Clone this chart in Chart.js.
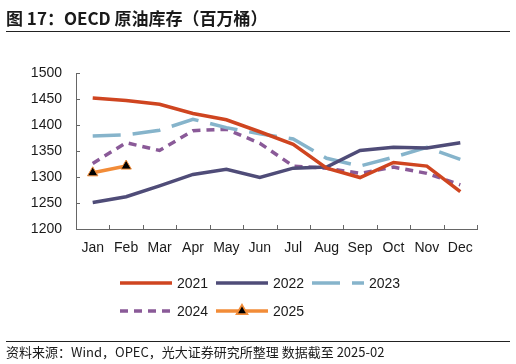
<!DOCTYPE html>
<html>
<head>
<meta charset="utf-8">
<script src="https://cdn.jsdelivr.net/npm/chart.js@4/dist/chart.umd.min.js"></script>
<style>
body{margin:0;width:516px;height:364px;background:#fff;position:relative;overflow:hidden}
#title{position:absolute;left:6px;top:5px;font:bold 17px "Noto Sans CJK SC";color:#1a1a1a;white-space:nowrap}
#topline{position:absolute;left:6px;right:6px;top:31px;border-top:1px solid #222}
#foot{position:absolute;left:6px;top:342px;font:13px "Noto Sans CJK SC";color:#1a1a1a;white-space:nowrap}
#footline{position:absolute;left:6px;right:6px;top:341px;border-top:1px solid #222}
#wrap{position:absolute;left:0;top:0;width:516px;height:364px}
</style>
</head>
<body>
<div id="wrap"><canvas id="c"></canvas></div>
<div id="title">图 17：OECD 原油库存（百万桶）</div>
<div id="topline"></div>
<div id="footline"></div>
<div id="foot">资料来源：Wind，OPEC，光大证券研究所整理 数据截至 2025-02</div>
<script>

// months and yearly inventory (million barrels)
const months = ["Jan","Feb","Mar","Apr","May","Jun","Jul","Aug","Sep","Oct","Nov","Dec"]
const y2021 = [1452,1447,1440,1422,1410,1387,1363,1317,1299,1328,1321,1272]
const y2022 = [1251,1262,1283,1305,1315,1299,1317,1319,1351,1357,1356,1366]
const y2023 = [1379,1381,1390,1411,1395,1383,1373,1336,1321,1338,1357,1334]
const y2024 = [1326,1366,1351,1389,1392,1365,1321,1317,1307,1319,1307,1285]
const y2025 = [1308,1321]
const yTicks = [1200,1250,1300,1350,1400,1450,1500]

const font = "Liberation Sans"

// axis tick marks pointing inside + legend
const extras = {
id:"extras",
afterDraw(chart){
const ctx = chart.ctx
const xs = chart.scales.x, ys = chart.scales.y
ctx.save()
ctx.strokeStyle = "#666"
ctx.lineWidth = 1
ctx.beginPath()
yTicks.forEach(v=>{
let py = Math.round(ys.getPixelForValue(v))+0.5
ctx.moveTo(xs.left,py); ctx.lineTo(xs.left+4,py)
})
let step = (xs.right-xs.left)/months.length
for(let i=1;i<=months.length;i++){
let px = Math.round(xs.left+i*step)+0.5
ctx.moveTo(px,ys.bottom); ctx.lineTo(px,ys.bottom-4)
}
ctx.stroke()

// legend
const rows = [[0,1,2],[3,4]]
const rowY = [283,311]
const colX = [120,216,312]
ctx.font = "14px " + font
ctx.textBaseline = "middle"
rows.forEach((r,ri)=>{
r.forEach((di,ci)=>{
const ds = chart.data.datasets[di]
const x0 = colX[ci], y = rowY[ri]
ctx.strokeStyle = ds.borderColor
ctx.lineWidth = ds.borderWidth
ctx.lineCap = ds.borderCapStyle || "butt"
ctx.setLineDash(ds.borderDash || [])
ctx.beginPath(); ctx.moveTo(x0,y); ctx.lineTo(x0+52,y); ctx.stroke()
ctx.setLineDash([])
if(ds.pointRadius){
Chart.helpers.drawPoint(ctx,{pointStyle:"triangle",radius:4.5,borderWidth:1},x0+26,y)
ctx.fillStyle = ds.pointBackgroundColor
ctx.fill()
}
ctx.fillStyle = "#1a1a1a"
ctx.fillText(ds.label,x0+57,y+1)
})
})
ctx.restore()
}
}

Chart.defaults.font.family = font
Chart.defaults.font.size = 14
Chart.defaults.color = "#1a1a1a"

new Chart(document.getElementById("c"),{
type:"line",
data:{
labels:months,
datasets:[
{label:"2021",data:y2021,borderColor:"#cf4520",borderWidth:3.5,pointRadius:0},
{label:"2022",data:y2022,borderColor:"#4f4c78",borderWidth:3.5,pointRadius:0},
{label:"2023",data:y2023,borderColor:"#86b4cb",borderWidth:3.5,pointRadius:0,borderDash:[28,12]},
{label:"2024",data:y2024,borderColor:"#8a5a98",borderWidth:3.5,pointRadius:0,borderDash:[8,6]},
{label:"2025",data:y2025,borderColor:"#f28c38",borderWidth:3.5,pointRadius:6,pointStyle:"triangle",
pointBackgroundColor:"#000",pointBorderColor:"#f28c38",pointBorderWidth:1}
]
},
options:{
responsive:true,
maintainAspectRatio:false,
animation:false,
layout:{padding:{left:0,right:39,top:73,bottom:105}},
plugins:{legend:{display:false},tooltip:{enabled:false}},
scales:{
x:{
offset:true,
grid:{display:true,drawOnChartArea:false,drawTicks:false},
border:{color:"#666",width:1},
ticks:{padding:11,maxRotation:0,autoSkip:false},
afterFit(s){s.height=30}
},
y:{
min:1200,max:1500,
grid:{display:true,drawOnChartArea:false,drawTicks:false},
border:{color:"#666",width:1},
afterBuildTicks(s){s.ticks = yTicks.map(v=>({value:v}))},
ticks:{padding:14,callback:v=>String(v)},
afterFit(s){s.width=76}
}
}
},
plugins:[extras]
})

</script>
</body>
</html>
